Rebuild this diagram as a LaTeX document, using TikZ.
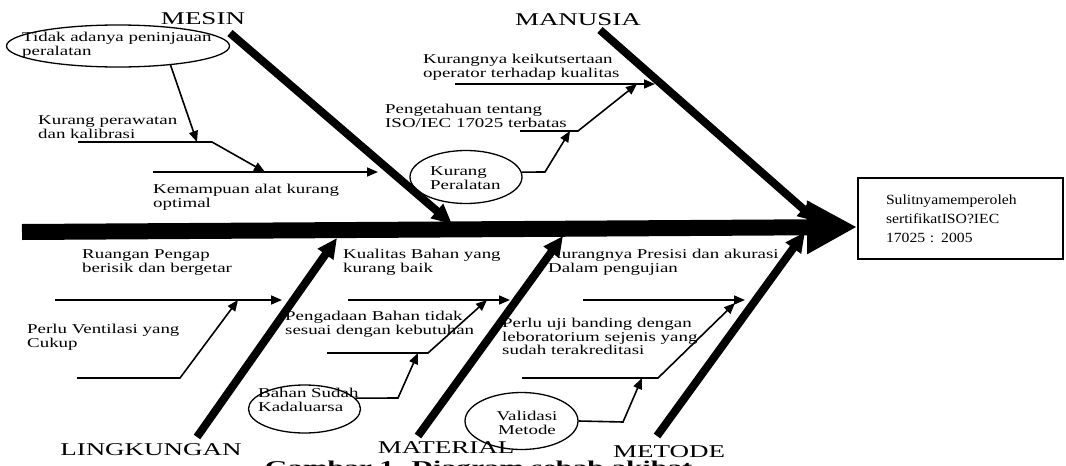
\documentclass[tikz,border=0pt]{standalone}
\usepackage{fontspec}
\setmainfont{Liberation Serif}
\newfontfamily\bodyf[FakeStretch=1.4]{Liberation Serif}
\newfontfamily\titlef[FakeStretch=1.5]{Liberation Serif}
\newfontfamily\boxf[FakeStretch=1.12]{Liberation Serif}
\newfontfamily\capf[FakeStretch=1.65]{Liberation Serif}
\usetikzlibrary{arrows.meta,shapes.geometric}
\begin{document}
\begin{tikzpicture}[x=1pt,y=-1pt,
  txt/.style={anchor=north west, inner sep=0pt, align=left, font=\bodyf\fontsize{13.5}{13.2}\selectfont},
  ctxt/.style={anchor=north, inner sep=0pt, align=center, font=\bodyf\fontsize{13.5}{13.2}\selectfont},
  ttl/.style={anchor=base, inner sep=0pt, font=\titlef\fontsize{18}{18}\selectfont},
  oval/.style={draw, ellipse, line width=1.3pt, inner sep=0pt},
  thin/.style={line width=1.6pt, -{Triangle[length=11pt,width=9pt]}},
  bone/.style={line width=8pt, -{Triangle[length=20pt,width=18pt]}},
  spine/.style={line width=16pt, -{Triangle[length=50pt,width=50pt]}},
  resbox/.style={draw, line width=1.3pt, minimum width=205pt, minimum height=81pt, inner xsep=28pt, text width=149pt, align=left, font=\boxf\fontsize{14}{19}\selectfont}
]
\useasboundingbox (0,0) rectangle (1066,466);

% result box
\node[resbox] (res) at (960.5,218.5) {Sulitnyamemperoleh\\sertifikatISO?IEC\\17025 : 2005};

% spine
\coordinate (sp0) at (22,232);
\coordinate (sp1) at (857,227);
\draw[spine] (sp0) -- (sp1);

% bone titles
\node[ttl] (tmesin) at (203,24) {MESIN};
\node[ttl] (tmanusia) at (578,25) {MANUSIA};
\node[ttl] (tling) at (151,455) {LINGKUNGAN};
\node[ttl] (tmat) at (446,453) {MATERIAL};
\node[ttl] (tmet) at (669,457) {METODE};

% bones
\coordinate (bm0) at (230,33);  \coordinate (bm1) at (452,224);
\coordinate (bn0) at (600,30);  \coordinate (bn1) at (818,222);
\coordinate (bl0) at (197,437); \coordinate (bl1) at (337,238);
\coordinate (bt0) at (418,436); \coordinate (bt1) at (563,236);
\coordinate (bd0) at (657,436); \coordinate (bd1) at (805,232);
\draw[bone] (bm0) -- (bm1);
\draw[bone] (bn0) -- (bn1);
\draw[bone] (bl0) -- (bl1);
\draw[bone] (bt0) -- (bt1);
\draw[bone] (bd0) -- (bd1);

% ---------- MESIN ----------
\node[oval, minimum width=223pt, minimum height=42pt] (e1) at (118,46) {};
\node[txt] (e1t) at (22,31.7) {\strut Tidak adanya peninjauan\\peralatan};
\node[txt] (t2) at (38,114.7) {\strut Kurang perawatan\\dan kalibrasi};
\node[txt] (t3) at (153,183.7) {\strut Kemampuan alat kurang\\optimal};
\coordinate (k2s) at (78,142);  \coordinate (k2a) at (197,142);
\coordinate (k2m) at (212,142); \coordinate (k3a) at (265,172);
\coordinate (k3s) at (153,172); \coordinate (k3e) at (378,172);
\draw[thin] (e1.-20) -- (k2a);
\draw[thin] (k2s) -- (k2m) -- (k3a);
\draw[thin] (k3s) -- (k3e);

% ---------- MANUSIA ----------
\node[txt] (t4) at (423,53.7) {\strut Kurangnya keikutsertaan\\operator terhadap kualitas};
\node[txt] (t5) at (385,103.7) {\strut Pengetahuan tentang\\ISO/IEC 17025 terbatas};
\node[oval, minimum width=112pt, minimum height=53pt] (e2) at (466,177) {};
\node[txt] (e2t) at (430,165.7) {\strut Kurang\\Peralatan};
\coordinate (n1s) at (455,84);  \coordinate (n1e) at (655,84);
\coordinate (n2s) at (520,131); \coordinate (n2m) at (578,131); \coordinate (n2e) at (637,84);
\coordinate (n3m) at (545,172); \coordinate (n3e) at (570,131);
\draw[thin] (n1s) -- (n1e);
\draw[thin] (n2s) -- (n2m) -- (n2e);
\draw[thin] (e2.5) -- (n3m) -- (n3e);

% ---------- LINGKUNGAN ----------
\node[txt] (t7) at (82,248.7) {\strut Ruangan Pengap\\berisik dan bergetar};
\node[txt] (t8) at (27,323.7) {\strut Perlu Ventilasi yang\\Cukup};
\coordinate (l1s) at (55,300);  \coordinate (l1e) at (282,300);
\coordinate (l2s) at (77,378);  \coordinate (l2m) at (180,378); \coordinate (l2e) at (238,300);
\draw[thin] (l1s) -- (l1e);
\draw[thin] (l2s) -- (l2m) -- (l2e);

% ---------- MATERIAL ----------
\node[txt] (t9) at (343,248.7) {\strut Kualitas Bahan yang\\kurang baik};
\node[txt] (t10) at (285,310.7) {\strut Pengadaan Bahan tidak\\sesuai dengan kebutuhan};
\node[oval, minimum width=112pt, minimum height=48pt] (e3) at (304.5,409) {};
\node[txt] (e3t) at (258,387.7) {\strut Bahan Sudah\\Kadaluarsa};
\coordinate (m1s) at (348,300); \coordinate (m1e) at (510,300);
\coordinate (m2s) at (327,353); \coordinate (m2m) at (428,353); \coordinate (m2e) at (487,300);
\coordinate (m3m) at (398,398); \coordinate (m3e) at (418,353);
\draw[thin] (m1s) -- (m1e);
\draw[thin] (m2s) -- (m2m) -- (m2e);
\draw[thin] (e3.12) -- (m3m) -- (m3e);

% ---------- METODE ----------
\node[txt] (t12) at (548,248.7) {\strut Kurangnya Presisi dan akurasi\\Dalam pengujian};
\node[txt] (t13) at (502,317.7) {\strut Perlu uji banding dengan\\leboratorium sejenis yang\\sudah terakreditasi};
\node[oval, minimum width=113pt, minimum height=57pt] (e4) at (521.5,421) {};
\node[ctxt] (e4t) at (527,410.7) {\strut Validasi\\Metode};
\coordinate (d1s) at (583,300); \coordinate (d1e) at (745,300);
\coordinate (d2s) at (522,378); \coordinate (d2m) at (658,378); \coordinate (d2e) at (735,303);
\coordinate (d3m) at (623,422); \coordinate (d3e) at (642,378);
\draw[thin] (d1s) -- (d1e);
\draw[thin] (d2s) -- (d2m) -- (d2e);
\draw[thin] (e4.east) -- (d3m) -- (d3e);

% caption (cut by the page edge)
\node[anchor=base, inner sep=0pt, font=\capf\bfseries\fontsize{18}{18}\selectfont] (cap) at (478.5,473) {Gambar 1. Diagram sebab akibat};
\end{tikzpicture}
\end{document}
